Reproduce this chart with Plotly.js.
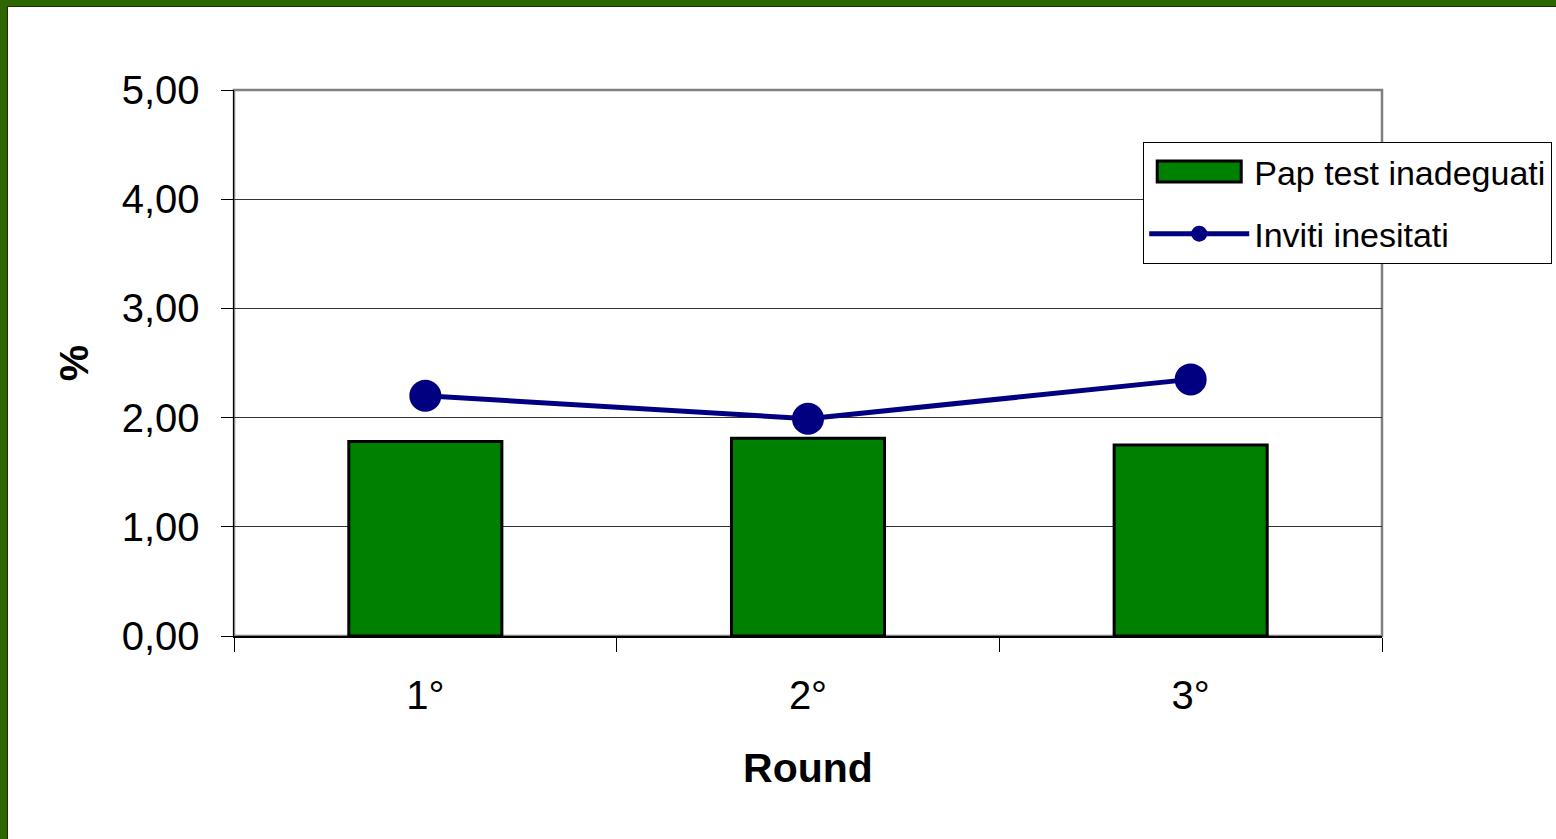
<!DOCTYPE html>
<html>
<head>
<meta charset="utf-8">
<script src="https://cdn.plot.ly/plotly-3.0.1.min.js"></script>
<style>
html,body{margin:0;padding:0;background:#fff;overflow:hidden;}
#frame{position:absolute;left:0;top:0;width:1556px;height:839px;box-sizing:border-box;border-top:6px solid #2e6600;border-left:7px solid #2e6600;}
#inner{position:absolute;left:7px;top:6px;right:0;bottom:0;border-top:1px solid #163300;border-left:1px solid #163300;}
#chart{position:absolute;left:0;top:0;width:1556px;height:839px;}
</style>
</head>
<body>
<div id="chart"></div>
<div id="frame"></div>
<div id="inner"></div>
<script>
const categories = ["1°", "2°", "3°"];
const papTestInadeguati = [1.78, 1.81, 1.75];
const invitiInesitati = [2.20, 1.99, 2.35];
const yTickVals = [0, 1, 2, 3, 4, 5];
const yTickText = ["0,00", "1,00", "2,00", "3,00", "4,00", "5,00"];

const traces = [
  {
    type: "bar", name: "Pap test inadeguati", x: categories, y: papTestInadeguati,
    legendgroup: "a",
    marker: {color: "#008000", line: {color: "#000000", width: 3}},
    hoverinfo: "skip"
  },
  {
    type: "scatter", mode: "lines+markers", name: "Inviti inesitati", x: categories, y: invitiInesitati,
    legendgroup: "b",
    line: {color: "#000080", width: 5},
    marker: {color: "#000080", size: 32},
    hoverinfo: "skip"
  }
];

const layout = {
  width: 1556, height: 839,
  paper_bgcolor: "#ffffff", plot_bgcolor: "#ffffff",
  margin: {l: 234, r: 174, t: 90, b: 203, autoexpand: false},
  font: {family: "Liberation Sans, Arial, sans-serif", color: "#000"},
  bargap: 0.6,
  showlegend: true,
  legend: {
    x: 0.792, y: 0.905, xanchor: "left", yanchor: "top",
    bgcolor: "#ffffff", bordercolor: "#000000", borderwidth: 1,
    font: {size: 34, color: "#000"}, itemwidth: 100,
    traceorder: "grouped", tracegroupgap: 15
  },
  xaxis: {
    type: "category", tickson: "boundaries", ticks: "outside", ticklen: 14, tickcolor: "#000", tickwidth: 1,
    showline: true, linecolor: "#000", linewidth: 1.5, showgrid: false, zeroline: false,
    tickfont: {size: 40}, ticklabelstandoff: 23,
    title: {text: "<b>Round</b>", font: {size: 41}, standoff: 38}
  },
  yaxis: {
    range: [0, 5], tickvals: yTickVals, ticktext: yTickText,
    ticks: "outside", ticklen: 12, tickcolor: "#000", tickwidth: 1,
    showline: true, linecolor: "#000", linewidth: 1.5,
    showgrid: true, gridcolor: "#333", gridwidth: 1, zeroline: false,
    tickfont: {size: 40}, ticklabelstandoff: 13,
    title: {text: "<b>%</b>", font: {size: 41}, standoff: 20}
  },
  shapes: [
    {type: "rect", xref: "paper", yref: "paper", x0: 0, x1: 1, y0: 0, y1: 1,
     line: {color: "#808080", width: 2.5}, layer: "below"}
  ]
};

Plotly.newPlot("chart", traces, layout, {staticPlot: true, displayModeBar: false}).then(function (gd) {
  // widen the bar legend swatch to look like the reference's long rectangle
  const items = gd.querySelectorAll(".legend .traces");
  if (items.length) {
    const p = items[0].querySelector(".legendpoints path");
    if (p) p.setAttribute("d", "M42,10.5H-42V-10.5H42Z");
  }
});
</script>
</body>
</html>
